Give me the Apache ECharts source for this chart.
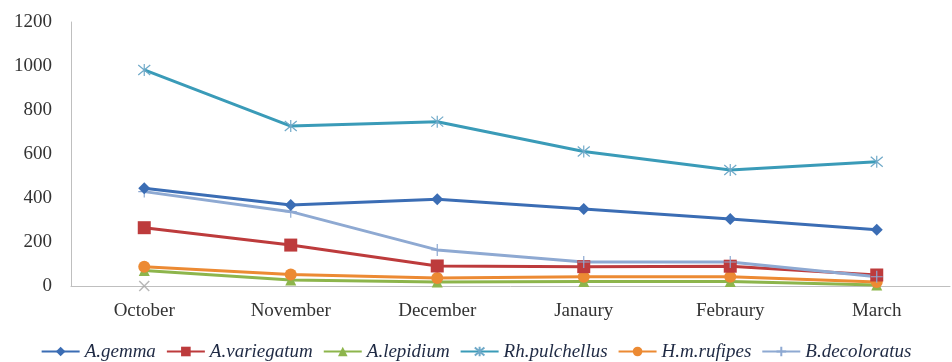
<!DOCTYPE html>
<html>
<head>
<meta charset="utf-8">
<script src="https://cdn.jsdelivr.net/npm/echarts@6/dist/echarts.min.js"></script>
<style>
  html, body { margin: 0; padding: 0; background: #fff; }
  #chart { width: 952px; height: 362px; }
</style>
</head>
<body>
<div id="chart"></div>
<script>
// Monthly tick counts per species, October to March
const months = ['October', 'November', 'December', 'Janaury', 'Febraury', 'March'];
const yTicks = [0, 200, 400, 600, 800, 1000, 1200];

const aGemma = [444, 368, 394, 350, 305, 256];
const aVariegatum = [265, 186, 91, 88, 90, 50];
const aLepidium = [70, 27, 18, 20, 20, 5];
const rhPulchellus = [982, 727, 747, 611, 527, 565];
const hmRufipes = [88, 52, 36, 42, 42, 18];
const bDecoloratus = [429, 338, 164, 109, 109, 42];
// stray marker sitting on the baseline under October
const strayMark = [0, null, null, null, null, null];

const serif = '"Liberation Serif", "DejaVu Serif", serif';
const asterisk = 'path://M0 0L10 10M10 0L0 10M5 -1L5 11';
const cross = 'path://M0 0L10 10M10 0L0 10';

function line(name, data, color, symbol, size, extra) {
  return Object.assign({
    name: name,
    type: 'line',
    data: data,
    symbol: symbol,
    symbolSize: size,
    lineStyle: { color: color, width: 3 },
    itemStyle: { color: color },
    emphasis: { disabled: true },
    z: 2
  }, extra || {});
}

const series = [
  line('A.gemma', aGemma, '#3B6DB4', 'diamond', 12, { z: 6 }),
  line('A.variegatum', aVariegatum, '#BD3B3C', 'rect', 13, { z: 5 }),
  line('A.lepidium', aLepidium, '#8DB54C', 'triangle', 11, { z: 3 }),
  line('Rh.pulchellus', rhPulchellus, '#3A9BB8', asterisk, 12, {
    z: 7,
    itemStyle: { color: 'transparent', borderColor: '#6FA9C8', borderWidth: 1.2 }
  }),
  line('H.m.rufipes', hmRufipes, '#EC8A33', 'circle', 12, { z: 4 }),
  line('B.decoloratus', bDecoloratus, '#8EA9D2', 'path://M5 0L5 10M0 5L10 5', 12, {
    z: 5,
    itemStyle: { color: 'transparent', borderColor: '#8EA9D2', borderWidth: 1.2 }
  }),
  {
    name: 'stray',
    type: 'scatter',
    data: strayMark,
    symbol: cross,
    symbolSize: 10,
    itemStyle: { color: 'transparent', borderColor: '#A6A6A6', borderWidth: 1.5 },
    z: 1
  }
];

const chart = echarts.init(document.getElementById('chart'), null, { renderer: 'canvas' });
chart.setOption({
  animation: false,
  backgroundColor: '#ffffff',
  grid: { left: 71, right: 2, top: 22, bottom: 76, containLabel: false },
  xAxis: {
    type: 'category',
    data: months,
    boundaryGap: true,
    axisLine: { show: true, lineStyle: { color: '#BFBFBF', width: 1 } },
    axisTick: { show: false },
    axisLabel: { color: '#333', fontFamily: serif, fontSize: 19, margin: 16 }
  },
  yAxis: {
    type: 'value',
    min: yTicks[0],
    max: yTicks[yTicks.length - 1],
    interval: yTicks[1] - yTicks[0],
    axisLine: { show: true, lineStyle: { color: '#BFBFBF', width: 1 } },
    axisTick: { show: false },
    splitLine: { show: false },
    axisLabel: {
      color: '#333', fontFamily: serif, fontSize: 19, margin: 19,
      formatter: function (v) { return String(v); }
    }
  },
  legend: {
    data: ['A.gemma', 'A.variegatum', 'A.lepidium', 'Rh.pulchellus', 'H.m.rufipes', 'B.decoloratus'],
    bottom: -4,
    left: 'center',
    itemWidth: 38,
    itemHeight: 12,
    itemGap: 10,
    textStyle: { fontFamily: serif, fontStyle: 'italic', fontSize: 19, color: '#1F2A44' }
  },
  series: series
});
</script>
</body>
</html>
